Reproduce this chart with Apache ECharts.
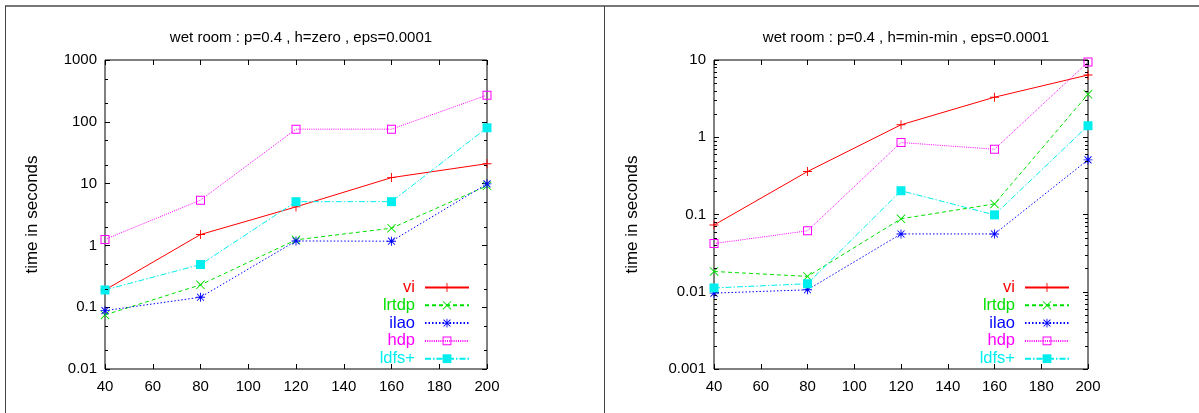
<!DOCTYPE html>
<html>
<head>
<meta charset="utf-8">
<script src="https://cdn.jsdelivr.net/npm/echarts@6/dist/echarts.min.js"></script>
<style>
html,body{margin:0;padding:0;background:#fff;}
#c{width:1199px;height:413px;}
</style>
</head>
<body>
<div id="c"></div>
<script>
// ---- data ----
const sizes = [40, 80, 120, 160, 200];
const seriesNames = ['vi', 'lrtdp', 'ilao', 'hdp', 'ldfs+'];
const titleZero = 'wet room : p=0.4 , h=zero , eps=0.0001';
const titleMinMin = 'wet room : p=0.4 , h=min-min , eps=0.0001';
const yName = 'time in seconds';

// h=zero (left)
const viZero    = [0.19, 1.5, 4.2, 12.5, 21];
const lrtdpZero = [0.075, 0.23, 1.23, 1.9, 9.2];
const ilaoZero  = [0.088, 0.145, 1.18, 1.17, 9.9];
const hdpZero   = [1.25, 5.4, 76, 76, 270];
const ldfsZero  = [0.19, 0.49, 5.1, 5.1, 80];

// h=min-min (right)
const viMin    = [0.073, 0.36, 1.45, 3.3, 6.4];
const lrtdpMin = [0.0183, 0.0158, 0.088, 0.137, 3.6];
const ilaoMin  = [0.0096, 0.0106, 0.056, 0.056, 0.51];
const hdpMin   = [0.042, 0.0615, 0.855, 0.70, 9.4];
const ldfsMin  = [0.0112, 0.0127, 0.203, 0.099, 1.41];

// axis ranges / minor tick mantissas
const xMin = 40, xMax = 200, xStep = 20;
const yRangeZero = [0.01, 1000];
const yRangeMin = [0.001, 10];
const minorZero = [2, 5];
const minorMin = [2, 3, 4, 5, 6, 7, 8, 9];

// ---- styles ----
const colors = ['#ff0000', '#00e000', '#0000ff', '#ff00ff', '#00eeee'];
const dashes = ['solid', [4, 3], [1.5, 2], [1, 1.2], [6, 2, 1.5, 2]];
const plusPath = 'path://M9,0h2v20h-2z M0,9h20v2h-20z';
const crossPath = 'path://M0,1.4L1.4,0L20,18.6L18.6,20Z M18.6,0L20,1.4L1.4,20L0,18.6Z';
const starPath = 'path://M9,0h2v20h-2z M0,9h20v2h-20z M1.5,2.9L2.9,1.5L18.5,17.1L17.1,18.5Z M17.1,1.5L18.5,2.9L2.9,18.5L1.5,17.1Z';
const boxPath = 'path://M0,0H20V20H0Z M2.2,2.2V17.8H17.8V2.2Z';
const symbols = [plusPath, crossPath, starPath, boxPath, 'rect'];
const symbolSizes = [9, 9, 9, 9, 9];

const FONT = '"Liberation Sans", Arial, sans-serif';

function mkData(vals) { return sizes.map((x, i) => [x, vals[i]]); }

function lineSeries(idx, vals, gi) {
  return {
    type: 'line', name: seriesNames[idx],
    xAxisIndex: gi * 2, yAxisIndex: gi * 2,
    data: mkData(vals),
    symbol: symbols[idx], symbolSize: symbolSizes[idx],
    showAllSymbol: true,
    lineStyle: { color: colors[idx], width: 1, type: dashes[idx] },
    itemStyle: { color: colors[idx], borderWidth: 0 },
    emphasis: { disabled: true },
    z: 3
  };
}

function minorSeries(gi, range, mantissas) {
  const vals = [];
  const e0 = Math.round(Math.log10(range[0])), e1 = Math.round(Math.log10(range[1]));
  for (let e = e0; e < e1; e++) {
    mantissas.forEach(m => vals.push([xMin, m * Math.pow(10, e)]));
  }
  return {
    type: 'custom', xAxisIndex: gi * 2, yAxisIndex: gi * 2, silent: true,
    data: vals, z: 4,
    renderItem: function (params, api) {
      const v = api.value(1);
      const a = api.coord([xMin, v]);
      const b = api.coord([xMax, v]);
      const y = Math.round(a[1]) + 0.5;
      return {
        type: 'group', children: [
          { type: 'line', shape: { x1: a[0], y1: y, x2: a[0] + 3, y2: y }, style: { stroke: '#000', lineWidth: 1 } },
          { type: 'line', shape: { x1: b[0] - 3, y1: y, x2: b[0], y2: y }, style: { stroke: '#000', lineWidth: 1 } }
        ]
      };
    }
  };
}

function yFmt(v) {
  if (v >= 1) return String(Math.round(v));
  return String(parseFloat(v.toPrecision(1)));
}

const grids = [
  { left: 105, top: 60, width: 382, height: 309 },
  { left: 714, top: 60, width: 374, height: 309 }
];

const xAxes = [], yAxes = [];
[0, 1].forEach(gi => {
  const range = gi === 0 ? yRangeZero : yRangeMin;
  xAxes.push({
    type: 'value', gridIndex: gi, min: xMin, max: xMax, interval: xStep, position: 'bottom',
    axisLine: { show: false }, splitLine: { show: false },
    axisTick: { inside: true, length: 5, lineStyle: { color: '#000' } },
    axisLabel: { color: '#000', fontSize: 15, fontFamily: FONT, margin: 10 }
  });
  xAxes.push({
    type: 'value', gridIndex: gi, min: xMin, max: xMax, interval: xStep, position: 'top',
    axisLine: { show: false }, splitLine: { show: false },
    axisTick: { inside: true, length: 5, lineStyle: { color: '#000' } },
    axisLabel: { show: false }
  });
  yAxes.push({
    type: 'log', logBase: 10, gridIndex: gi, min: range[0], max: range[1], position: 'left',
    axisLine: { show: false }, splitLine: { show: false },
    axisTick: { inside: true, length: 5, lineStyle: { color: '#000' } },
    axisLabel: { color: '#000', fontSize: 15, fontFamily: FONT, margin: 8, formatter: yFmt },
    name: yName, nameLocation: 'middle', nameGap: gi === 0 ? 64 : 73, nameRotate: 90,
    nameTextStyle: { color: '#000', fontSize: 17, fontFamily: FONT }
  });
  yAxes.push({
    type: 'log', logBase: 10, gridIndex: gi, min: range[0], max: range[1], position: 'right',
    axisLine: { show: false }, splitLine: { show: false },
    axisTick: { inside: true, length: 5, lineStyle: { color: '#000' } },
    axisLabel: { show: false }
  });
});

const series = [];
[viZero, lrtdpZero, ilaoZero, hdpZero, ldfsZero].forEach((v, i) => series.push(lineSeries(i, v, 0)));
[viMin, lrtdpMin, ilaoMin, hdpMin, ldfsMin].forEach((v, i) => series.push(lineSeries(i, v, 1)));
series.push(minorSeries(0, yRangeZero, minorZero));
series.push(minorSeries(1, yRangeMin, minorMin));

function mkLegend(right) {
  return {
    orient: 'vertical', right: right, top: 279, align: 'right', padding: 0,
    itemWidth: 44, itemHeight: 11, itemGap: 0.8,
    selectedMode: false,
    textStyle: { fontSize: 16.5, fontFamily: FONT, lineHeight: 16, padding: [0, 5, 0, 0] },
    data: seriesNames.map((n, i) => ({ name: n, textStyle: { color: colors[i] } }))
  };
}

const option = {
  animation: false,
  backgroundColor: '#fff',
  title: [
    { text: titleZero, left: 296, top: 25, textAlign: 'center',
      textStyle: { fontSize: 15, fontWeight: 'normal', color: '#000', fontFamily: FONT } },
    { text: titleMinMin, left: 901, top: 25, textAlign: 'center',
      textStyle: { fontSize: 15, fontWeight: 'normal', color: '#000', fontFamily: FONT } }
  ],
  grid: grids.map(g => Object.assign({ show: true, borderColor: '#000', borderWidth: 1, backgroundColor: 'transparent' }, g)),
  xAxis: xAxes,
  yAxis: yAxes,
  legend: [mkLegend(1199 - 470), mkLegend(1199 - 1070)],
  series: series,
  graphic: [
    { type: 'line', shape: { x1: 5, y1: 6, x2: 1199, y2: 6 }, style: { stroke: '#777', lineWidth: 2 } },
    { type: 'line', shape: { x1: 5.5, y1: 6, x2: 5.5, y2: 413 }, style: { stroke: '#444', lineWidth: 1 } },
    { type: 'line', shape: { x1: 604.5, y1: 6, x2: 604.5, y2: 413 }, style: { stroke: '#444', lineWidth: 1 } }
  ]
};

const chart = echarts.init(document.getElementById('c'), null, { renderer: 'canvas' });
chart.setOption(option);
</script>
</body>
</html>
